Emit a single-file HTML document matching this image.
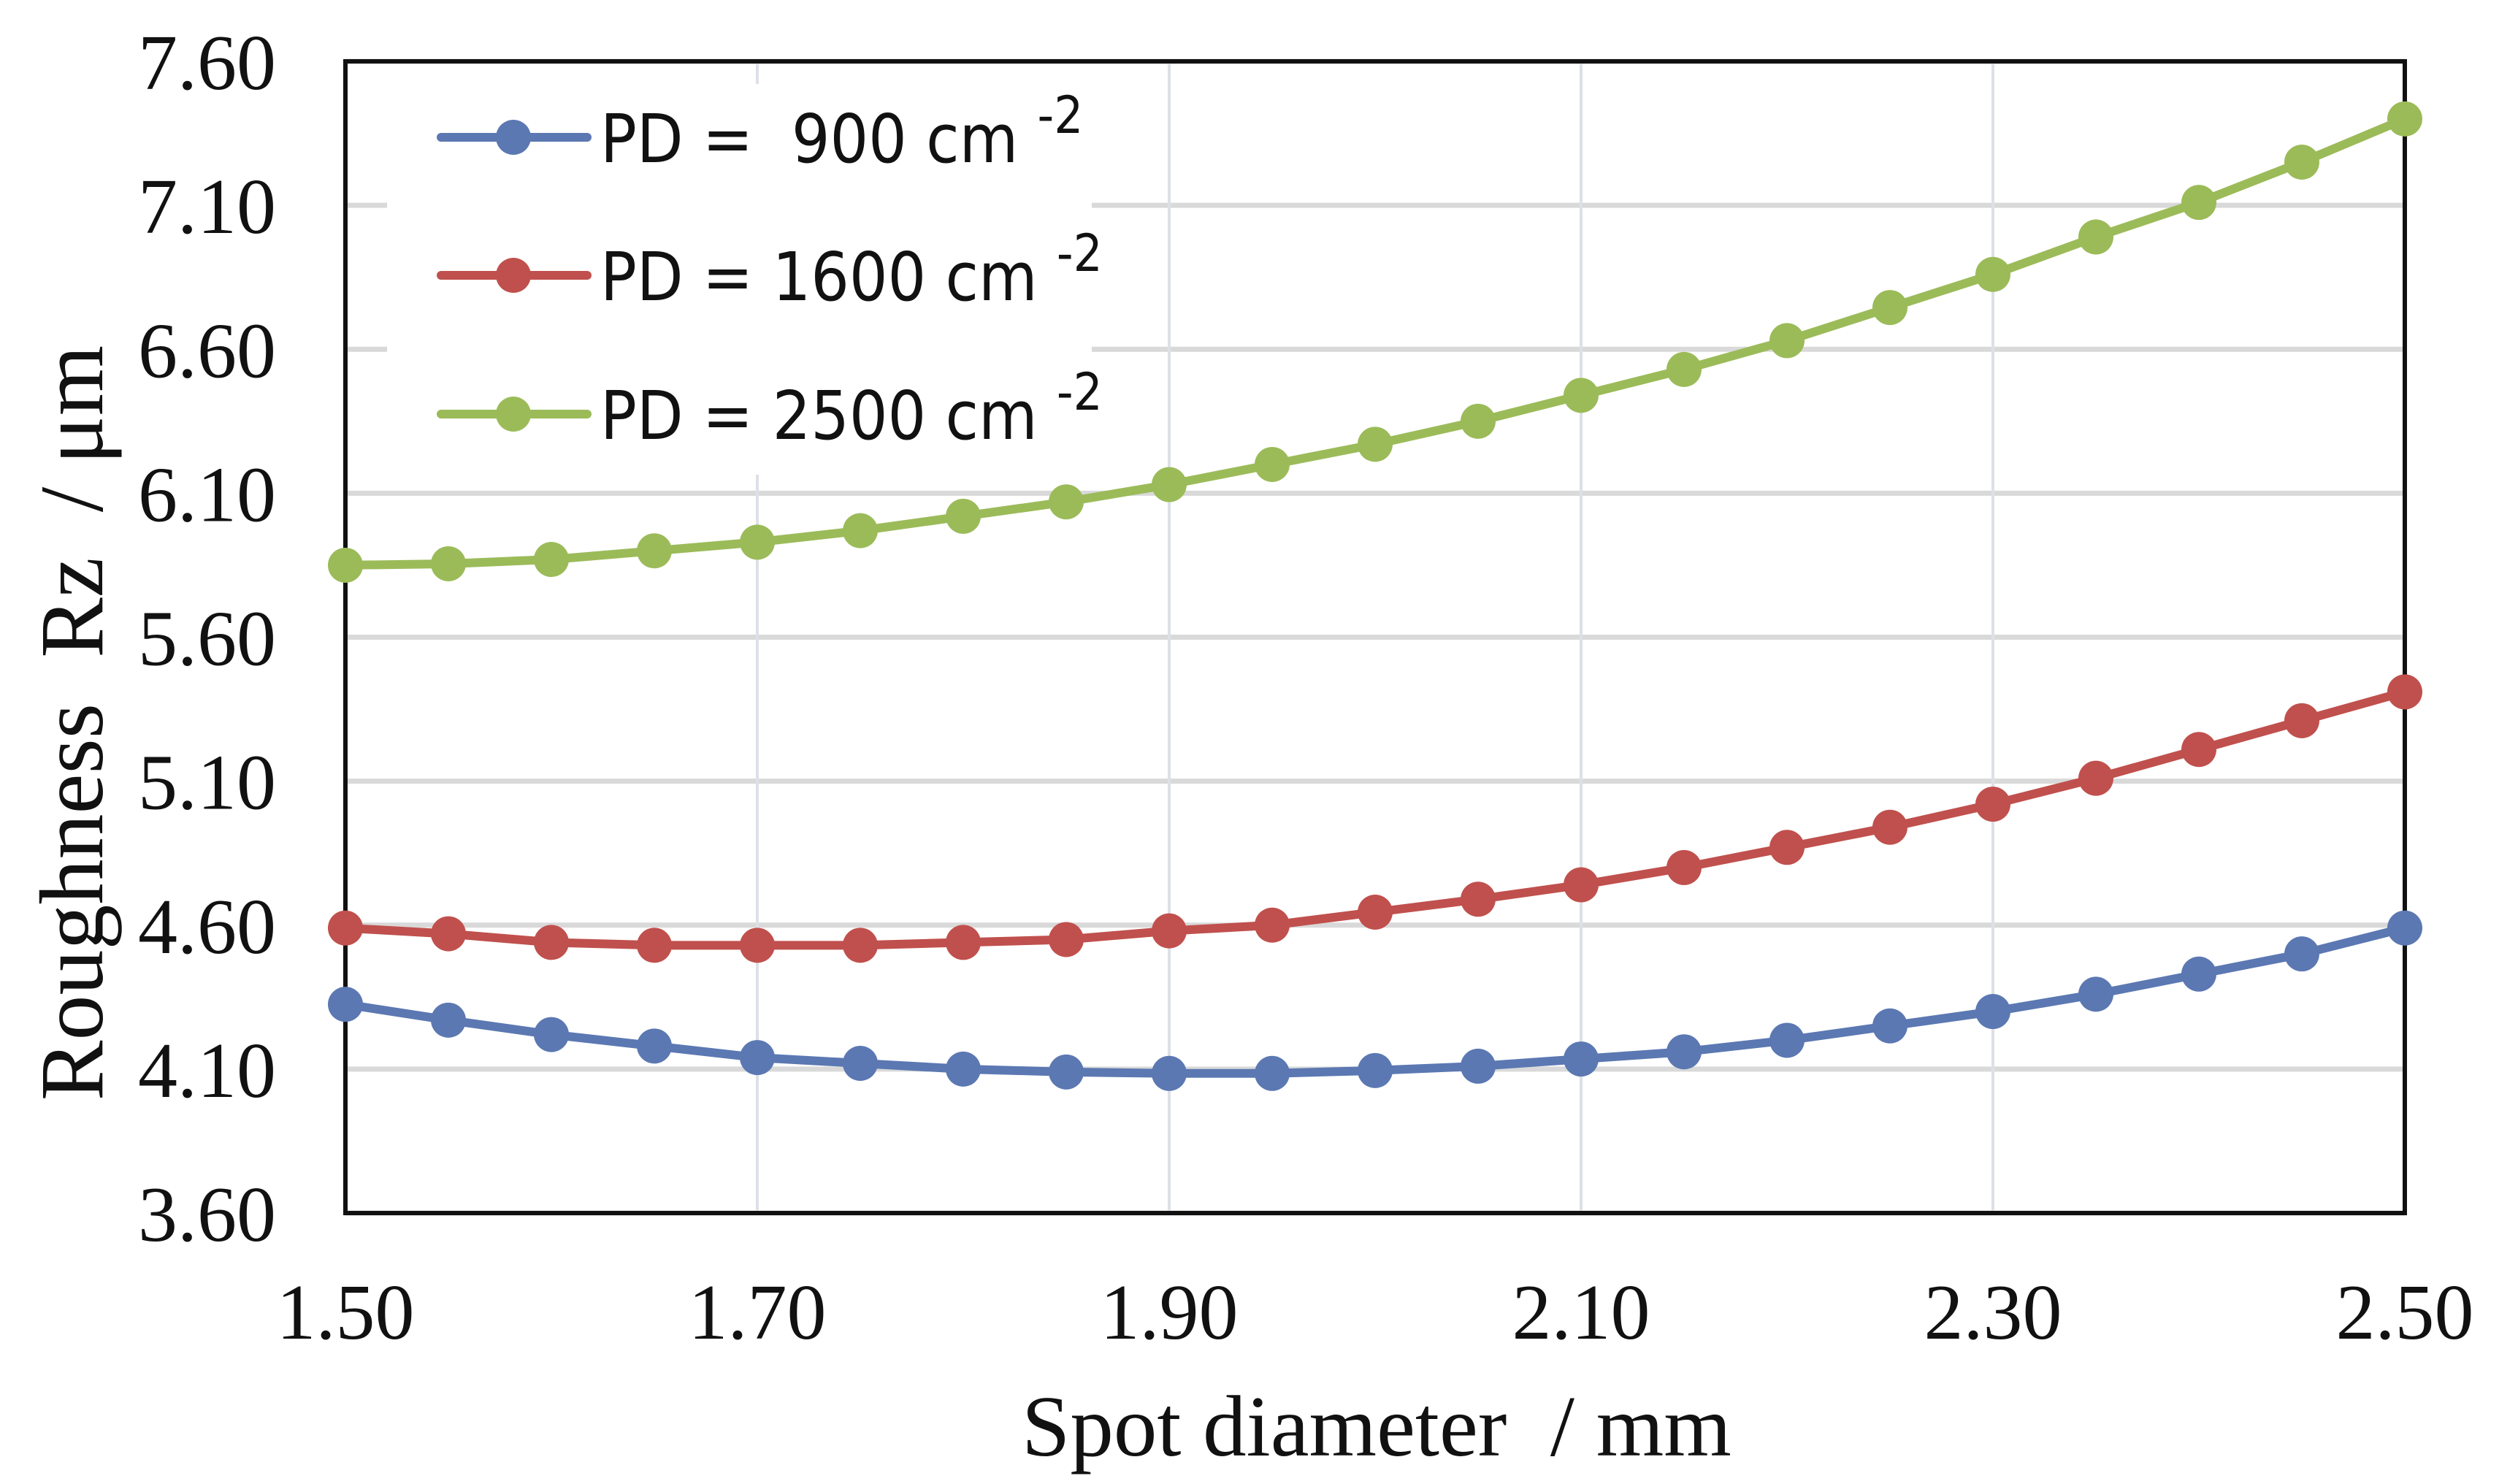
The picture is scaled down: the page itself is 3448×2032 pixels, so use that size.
<!DOCTYPE html>
<html><head><meta charset="utf-8"><style>
html,body{margin:0;padding:0;background:#fff;}
svg{display:block;}
</style></head><body>
<svg id="chart" width="3448" height="2032" xmlns="http://www.w3.org/2000/svg"></svg>
<script>
const xValues=[1.50,1.55,1.60,1.65,1.70,1.75,1.80,1.85,1.90,1.95,2.00,2.05,2.10,2.15,2.20,2.25,2.30,2.35,2.40,2.45,2.50];
const pd900=[4.325,4.27,4.22,4.18,4.14,4.12,4.10,4.09,4.085,4.085,4.095,4.11,4.135,4.16,4.20,4.25,4.30,4.36,4.43,4.50,4.59];
const pd1600=[4.59,4.57,4.54,4.53,4.53,4.53,4.54,4.55,4.58,4.60,4.645,4.69,4.74,4.80,4.87,4.94,5.02,5.11,5.21,5.31,5.41];
const pd2500=[5.85,5.855,5.87,5.90,5.93,5.97,6.02,6.07,6.13,6.20,6.27,6.35,6.44,6.53,6.63,6.745,6.86,6.99,7.11,7.25,7.40];
const xTicks=[1.50,1.70,1.90,2.10,2.30,2.50];
const yTicks=[3.60,4.10,4.60,5.10,5.60,6.10,6.60,7.10,7.60];
const seriesNames=["PD =\u00a0 900 cm","PD = 1600 cm","PD = 2500 cm"];

const NS="http://www.w3.org/2000/svg";
const svg=document.getElementById('chart');
const L=473,R=3293,T=84,B=1661;
const X=v=>L+(v-1.5)/(2.5-1.5)*(R-L);
const Y=v=>B-(v-3.6)/(7.6-3.6)*(B-T);
function mk(tag,attrs,parent){const e=document.createElementNS(NS,tag);for(const k in attrs)e.setAttribute(k,attrs[k]);(parent||svg).appendChild(e);return e;}

yTicks.forEach(v=>{const g=mk('line',{x1:L,x2:R,y1:Y(v),y2:Y(v),stroke:'#d9d9d9','stroke-width':7});

});
xTicks.forEach(v=>{const g=mk('line',{x1:X(v),x2:X(v),y1:T,y2:B,stroke:'#dde0e6','stroke-width':4});

});

const lb=mk('rect',{x:530,y:115,width:965,height:535,fill:'#fff'});



const pb=mk('rect',{x:L,y:T,width:R-L,height:B-T,fill:'none',stroke:'#111','stroke-width':6});



const colors=['#5b78b2','#c0504d','#9bbb59'];
[pd900,pd1600,pd2500].forEach((s,i)=>{
  const g=mk('g',{});
  
  
  const pts=s.map((v,j)=>X(xValues[j])+','+Y(v)).join(' ');
  const pl=mk('polyline',{points:pts,fill:'none',stroke:colors[i],'stroke-width':12,'stroke-linejoin':'round'},g);
  
  
  s.forEach((v,j)=>{const c=mk('circle',{cx:X(xValues[j]),cy:Y(v),r:24,fill:colors[i]},g);
    
    });
});

yTicks.forEach(v=>{const t=mk('text',{x:378,y:Y(v)+38,'text-anchor':'end','font-family':'Liberation Serif, serif','font-size':108,fill:'#111'});
t.textContent=v.toFixed(2);

});
xTicks.forEach(v=>{const t=mk('text',{x:X(v),y:1833,'text-anchor':'middle','font-family':'Liberation Serif, serif','font-size':108,fill:'#111'});
t.textContent=v.toFixed(2);

});

const xt=mk('text',{x:1885,y:1993,'text-anchor':'middle','font-family':'Liberation Serif, serif','font-size':119,fill:'#111'});
xt.textContent='Spot diameter\u00a0 / mm';


const yt=mk('text',{x:0,y:0,'text-anchor':'middle','font-family':'Liberation Serif, serif','font-size':124,fill:'#111',transform:'translate(140,990) rotate(-90)'});
yt.textContent='Roughness\u00a0 Rz\u00a0 / μm';



const legY=[188,377,567];
seriesNames.forEach((n,i)=>{
  const g=mk('g',{});
  
  
  mk('line',{x1:604,x2:804,y1:legY[i],y2:legY[i],stroke:colors[i],'stroke-width':12,'stroke-linecap':'round'},g);
  mk('circle',{cx:703,cy:legY[i],r:24,fill:colors[i]},g);
  const t=mk('text',{x:822,y:legY[i]+34,'font-family':'DejaVu Sans Condensed, Liberation Sans Narrow, sans-serif','font-size':92,fill:'#111'},g);
  t.textContent=n+' ';
  const sp=mk('tspan',{dy:-40,'font-size':70},t);
  sp.textContent='-2';
});
</script>
</body></html>
